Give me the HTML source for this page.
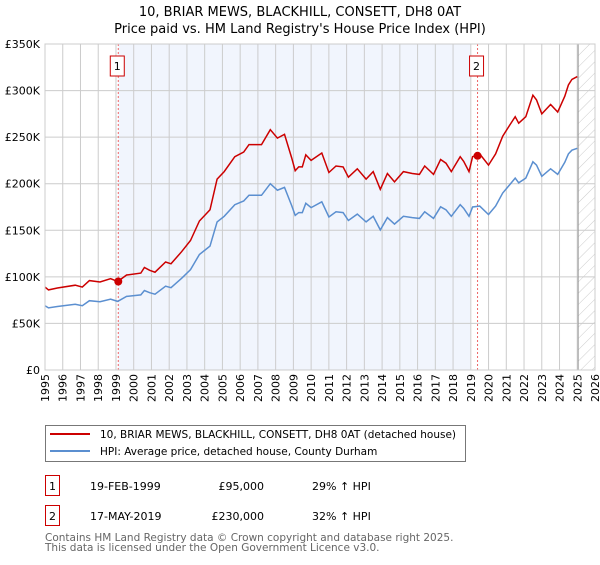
<!DOCTYPE html>
<html><head><meta charset="utf-8"><style>
body{margin:0;background:#fff;font-family:"Liberation Sans","DejaVu Sans",sans-serif;}
svg text{font-family:"DejaVu Sans","Liberation Sans",sans-serif;}
</style></head><body>
<svg id="chart" width="600" height="560" viewBox="0 0 600 560" xmlns="http://www.w3.org/2000/svg">
<defs><pattern id="hatch" width="8" height="8" patternUnits="userSpaceOnUse" patternTransform="rotate(45)"><line x1="0" y1="0" x2="0" y2="8" stroke="#ccc" stroke-width="1"/></pattern></defs>
<text x="300" y="16" text-anchor="middle" font-size="13" fill="#000">10, BRIAR MEWS, BLACKHILL, CONSETT, DH8 0AT</text>
<text x="300" y="33" text-anchor="middle" font-size="13" fill="#000">Price paid vs. HM Land Registry's House Price Index (HPI)</text>
<g id="plot"></g>
<rect x="45.5" y="425.5" width="420" height="36" fill="#fff" stroke="#777"/>
<line x1="50" y1="434" x2="90" y2="434" stroke="#cc0000" stroke-width="2"/>
<text x="100" y="438" font-size="10.5">10, BRIAR MEWS, BLACKHILL, CONSETT, DH8 0AT (detached house)</text>
<line x1="50" y1="451" x2="90" y2="451" stroke="#5b8fd0" stroke-width="2"/>
<text x="100" y="455" font-size="10.5">HPI: Average price, detached house, County Durham</text>
<g font-size="11">
<rect x="45.5" y="475.5" width="14" height="20" fill="#fff" stroke="#cc0000"/><text x="52.5" y="490" text-anchor="middle">1</text>
<text x="90" y="490">19-FEB-1999</text><text x="264" y="490" text-anchor="end">£95,000</text><text x="312" y="490">29% ↑ HPI</text></g>
<g font-size="11">
<rect x="45.5" y="505.5" width="14" height="20" fill="#fff" stroke="#cc0000"/><text x="52.5" y="520" text-anchor="middle">2</text>
<text x="90" y="520">17-MAY-2019</text><text x="264" y="520" text-anchor="end">£230,000</text><text x="312" y="520">32% ↑ HPI</text></g>
<text x="45" y="541" font-size="10.5" fill="#666">Contains HM Land Registry data © Crown copyright and database right 2025.</text>
<text x="45" y="551" font-size="10.5" fill="#666">This data is licensed under the Open Government Licence v3.0.</text>
</svg>
<script>
const yearTicks=[1995,1996,1997,1998,1999,2000,2001,2002,2003,2004,2005,2006,2007,2008,2009,2010,2011,2012,2013,2014,2015,2016,2017,2018,2019,2020,2021,2022,2023,2024,2025,2026];
const valueTicks=[0,50000,100000,150000,200000,250000,300000,350000];
const valueTickLabels=["£0","£50K","£100K","£150K","£200K","£250K","£300K","£350K"];
const times=[1995.0,1995.2,1995.7,1996.7,1997.1,1997.5,1998.1,1998.7,1999.1,1999.6,2000.4,2000.6,2000.9,2001.2,2001.8,2002.1,2002.7,2003.2,2003.7,2004.1,2004.3,2004.7,2005.1,2005.7,2006.2,2006.5,2007.2,2007.7,2008.1,2008.5,2008.9,2009.1,2009.3,2009.5,2009.7,2010.0,2010.6,2011.0,2011.4,2011.8,2012.1,2012.6,2013.1,2013.5,2013.9,2014.3,2014.7,2015.2,2015.7,2016.1,2016.4,2016.9,2017.3,2017.6,2017.9,2018.4,2018.6,2018.9,2019.1,2019.5,2020.0,2020.4,2020.8,2021.2,2021.5,2021.7,2022.1,2022.5,2022.7,2023.0,2023.5,2023.9,2024.3,2024.5,2024.7,2025.0];
const priceSeries=[89,86,88,91,89,96,94.5,98,95,102,104,110,107,105,116,114,127,139,160,168,172,205,213,229,234,242,242,258,249,253,228,214,218,218,231,225,233,212,219,218,207,216,205,213,194,211,202,213,211,210,219,210,226,222,213,229,224,213,229,232,220,232,251,263,272,265,272,295,290,275,285,277,294,306,312,315];
const hpiSeries=[69,66.7,68.2,70.5,69,74.4,73.3,76,73.6,79,80.6,85.3,83,81.4,90,88.4,98.4,107.8,124,130,133,159,165,177.5,181.4,187.6,187.6,200,193,196,176.7,166,169,169,179,174.4,180.6,164.3,169.8,169,160.5,167.4,159,165,150.4,163.6,156.6,165,163.6,162.8,169.8,162.8,175.2,172,165,177.5,173.6,165,175,176,167,176,190,199,206,201,206,223.5,220,208,216,210,223,232,236,238];
const saleTimes=[1999.13,2019.38];
const salePrices=[95000,230000];
const saleLabels=["1","2"];
const X0=45,X1=595,Y0=370,Y1=44;
const xs=t=>X0+(t-1995)/(2026-1995)*(X1-X0);
const ys=v=>Y0-v/350000*(Y0-Y1);
const NS="http://www.w3.org/2000/svg";
const g=document.getElementById('plot');
function mk(tag,attrs){const e=document.createElementNS(NS,tag);for(const k in attrs)e.setAttribute(k,attrs[k]);g.appendChild(e);return e;}
let r=mk('rect',{x:xs(saleTimes[0]),y:Y1,width:xs(2018.96)-xs(saleTimes[0]),height:Y0-Y1,fill:'#f1f5fd'});


let h=mk('rect',{x:xs(2025.05),y:Y1,width:X1-xs(2025.05),height:Y0-Y1,fill:'url(#hatch)'});


yearTicks.forEach(t=>{
 let l=mk('line',{x1:xs(t),x2:xs(t),y1:Y1,y2:Y0,stroke:'#ccc','stroke-width':1});
 
 
 let tx=mk('text',{x:0,y:0,'font-size':11,'text-anchor':'end',transform:`translate(${xs(t)+4},${Y0+4}) rotate(-90)`});
 tx.textContent=t;
 
 
});
valueTicks.forEach((v,i)=>{
 let l=mk('line',{x1:X0,x2:X1,y1:ys(v),y2:ys(v),stroke:'#ccc','stroke-width':1});
 
 
 let tx=mk('text',{x:40,y:ys(v)+4,'font-size':11,'text-anchor':'end'});
 tx.textContent=valueTickLabels[i];
 
 
});
let vl=mk('line',{x1:xs(2025.05),x2:xs(2025.05),y1:Y1,y2:Y0,stroke:'#999','stroke-width':1});


saleTimes.forEach((t,i)=>{
 let l=mk('line',{x1:xs(t),x2:xs(t),y1:Y1,y2:Y0,stroke:'#e66','stroke-width':1,'stroke-dasharray':'2,2'});
 
 
});
const pts=a=>a.map((v,i)=>xs(times[i]).toFixed(1)+','+ys(v*1000).toFixed(1)).join(' ');
let hp=mk('polyline',{points:pts(hpiSeries),fill:'none',stroke:'#5b8fd0','stroke-width':1.5});


let pp=mk('polyline',{points:pts(priceSeries),fill:'none',stroke:'#cc0000','stroke-width':1.5});


saleTimes.forEach((t,i)=>{
 let c=mk('circle',{cx:xs(t),cy:ys(salePrices[i]),r:4,fill:'#cc0000'});
 
 
 let b=mk('rect',{x:xs(t)-8,y:56,width:14,height:20,fill:'#fff',stroke:'#cc0000'});
 
 
 let tx=mk('text',{x:xs(t)-1,y:70,'font-size':11,'text-anchor':'middle'});
 tx.textContent=saleLabels[i];
 
 
});
let ax=mk('rect',{x:X0,y:Y1,width:X1-X0,height:Y0-Y1,fill:'none',stroke:'#ccc'});


</script>
</body></html>
